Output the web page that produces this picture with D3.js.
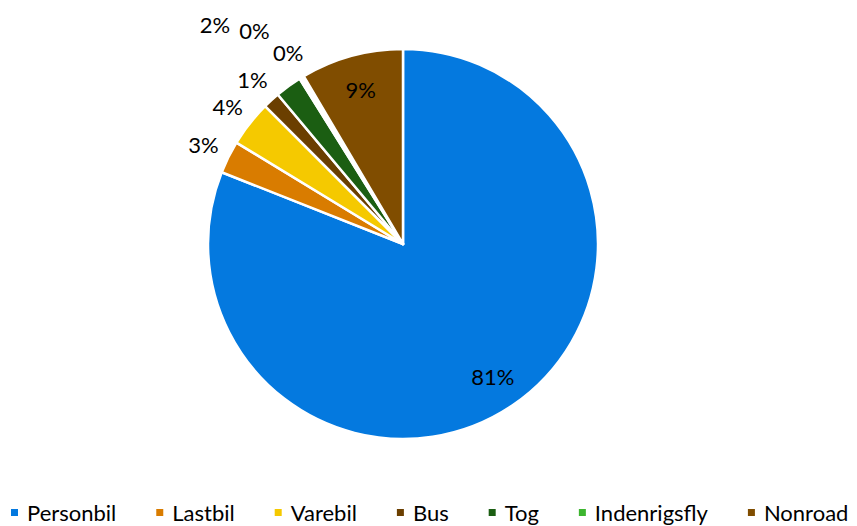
<!DOCTYPE html>
<html>
<head>
<meta charset="utf-8">
<script src="https://cdn.jsdelivr.net/npm/d3@7"></script>
<style>
  body { margin: 0; background: #fff; }
  svg { display: block; font-family: Lato, "Noto Sans", sans-serif; }
</style>
</head>
<body>
<svg class="pieChart" width="857" height="526"></svg>
<script>
// slices in drawing order (clockwise from 12 o'clock), values in percent
const categories = ["Personbil", "Lastbil", "Varebil", "Bus", "Tog", "Indenrigsfly", "Øvrige", "Nonroad"];
const shares = [81.0, 2.7, 3.8, 1.4, 2.2, 0.2, 0.2, 8.5];
const colors = ["#0479DF", "#D97C00", "#F5C900", "#6B3F00", "#1B5E12", "#3DB52F", "#FFFFFF", "#804D00"];
// the legend only lists these (one entry was removed in the original)
const legendKeys = ["Personbil", "Lastbil", "Varebil", "Bus", "Tog", "Indenrigsfly", "Nonroad"];

const svgWidth = 857;
const svgHeight = 526;
const center = {x: 403, y: 244};
const radius = 195;

const data = categories.map((c, i) => ({name: c, value: shares[i], color: colors[i]}));

const svg = d3.select('svg.pieChart');

const pie = d3.pie()
  .sort(null)
  .value(d => d.value);

const arc = d3.arc()
  .innerRadius(0)
  .outerRadius(radius);

const insideArc = d3.arc().innerRadius(radius * 0.82).outerRadius(radius * 0.82);
const outsideArc = d3.arc().innerRadius(radius + 28).outerRadius(radius + 28);

const arcs = pie(data);

const pieG = svg.append('g')
  .attr('transform', `translate(${center.x}, ${center.y})`);

pieG.selectAll('path.slice')
  .data(arcs)
  .enter()
  .append('path')
  .attr('class', 'slice')
  .attr('d', arc)
  .style('fill', d => d.data.color)
  .style('stroke', '#fff')
  .style('stroke-width', 2.5)
  .style('stroke-linejoin', 'round');

// labels: big slices inside, small ones outside
const fmt = v => `${Math.round(v)}%`;

const labels = pieG.selectAll('text.lbl')
  .data(arcs)
  .enter()
  .append('text')
  .attr('class', 'lbl')
  .text(d => fmt(d.data.value))
  .attr('text-anchor', 'middle')
  .attr('dominant-baseline', 'central')
  .style('font-size', '22px')
  .style('fill', '#000');

labels.each(function(d) {
  d.inside = d.data.value >= 5;
  const p = d.inside ? insideArc.centroid(d) : outsideArc.centroid(d);
  d.lx = p[0];
  d.ly = p[1];
  d.w = this.getComputedTextLength() + 8;
  d.h = 22;
});

// crude overlap fix: walk back from the last slice, push colliding labels outward
const placed = [];
const outside = arcs.filter(d => !d.inside).reverse();
outside.forEach(d => {
  const mid = (d.startAngle + d.endAngle) / 2;
  const dir = [Math.sin(mid), -Math.cos(mid)];
  let step = 0;
  const hits = () => placed.some(o =>
    Math.abs(o.lx - d.lx) < (o.w + d.w) / 2 && Math.abs(o.ly - d.ly) < (o.h + d.h) / 2);
  while (hits() && step < 200) {
    d.lx += dir[0] - 0.6;
    d.ly += dir[1];
    step++;
  }
  placed.push(d);
});

labels
  .attr('x', d => d.lx)
  .attr('y', d => d.ly);

// legend along the bottom
const legendG = svg.append('g').attr('class', 'legend');
let lx = 11;
legendKeys.forEach(k => {
  const d = data.find(e => e.name == k);
  const item = legendG.append('g').attr('transform', `translate(${lx}, 0)`);
  item.append('rect')
    .attr('x', 0)
    .attr('y', 509)
    .attr('width', 7)
    .attr('height', 7)
    .style('fill', d.color);
  const t = item.append('text')
    .attr('x', 16)
    .attr('y', 521)
    .text(k)
    .style('font-size', '22px')
    .style('fill', '#000');
  lx += 16 + t.node().getComputedTextLength() + 40;
});
</script>
</body>
</html>
